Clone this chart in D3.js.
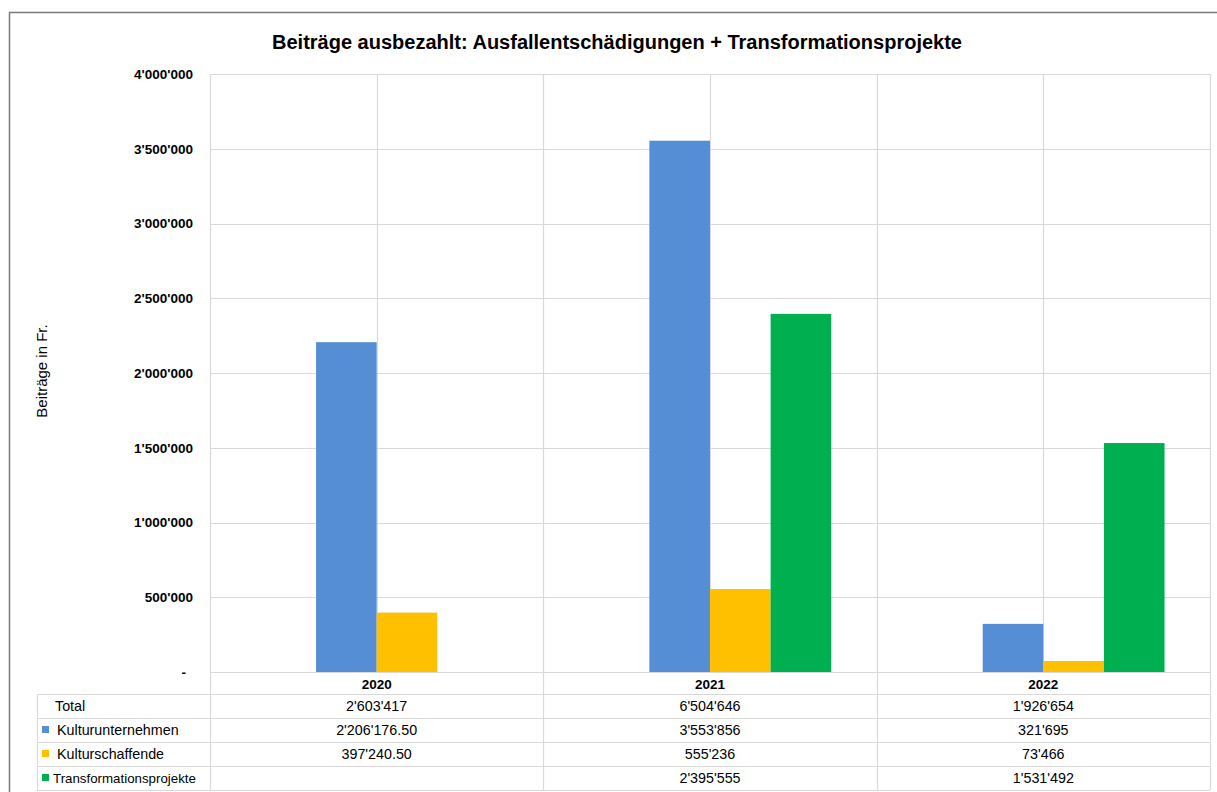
<!DOCTYPE html>
<html>
<head>
<meta charset="utf-8">
<script src="https://cdn.jsdelivr.net/npm/d3@7"></script>
<style>
  html, body { margin: 0; padding: 0; background: #fff; }
  svg { display: block; font-family: "Liberation Sans", Arial, sans-serif; }
</style>
</head>
<body>
<svg id="chart" width="1217" height="792"></svg>
<script>
// ---- Data ----
const categories = ["2020", "2021", "2022"];
const seriesNames = ["Total", "Kulturunternehmen", "Kulturschaffende", "Transformationsprojekte"];
const totalValues = [2603417, 6504646, 1926654];
const kulturunternehmen = [2206176.5, 3553856, 321695];
const kulturschaffende = [397240.5, 555236, 73466];
const transformationsprojekte = [null, 2395555, 1531492];
const seriesColors = [null, "#558ED5", "#FFC000", "#00B050"];
const yTicks = [0, 500000, 1000000, 1500000, 2000000, 2500000, 3000000, 3500000, 4000000];
const titleText = "Beiträge ausbezahlt: Ausfallentschädigungen + Transformationsprojekte";
const yTitleText = "Beiträge in Fr.";

const seriesValues = [totalValues, kulturunternehmen, kulturschaffende, transformationsprojekte];

// ---- Layout ----
const W = 1217, H = 792;
const plot = { left: 210, right: 1210, top: 74, bottom: 672 };
const tableLeft = 37, rowH = 24;
const gridColor = "#d9d9d9";

const svg = d3.select("#chart");

// outer frame
svg.append("rect")
  .attr("x", 9.5).attr("y", 12.5)
  .attr("width", W + 20).attr("height", H + 20)
  .attr("fill", "none").attr("stroke", "#7a7a7a").attr("stroke-width", 1.5);

const x0 = d3.scaleBand().domain(categories).range([plot.left, plot.right]);
const x1 = d3.scaleBand().domain(seriesNames).range([0, x0.bandwidth()])
  .paddingInner(0).paddingOuter(0.75);
const y = d3.scaleLinear().domain([0, 4000000]).range([plot.bottom, plot.top]);

const loc = d3.formatLocale({ decimal: ".", thousands: "'", grouping: [3], currency: ["", ""] });
const fmtInt = loc.format(",.0f");
const fmtDec = loc.format(",.2f");
const fmtVal = v => v == null ? "" : (Math.round(v) === v ? fmtInt(v) : fmtDec(v));

// horizontal gridlines
svg.append("g").selectAll("line").data(yTicks).join("line")
  .attr("x1", plot.left).attr("x2", plot.right)
  .attr("y1", d => Math.round(y(d)) + 0.5).attr("y2", d => Math.round(y(d)) + 0.5)
  .attr("stroke", gridColor).attr("stroke-width", 1.2);

// vertical gridlines (category boundaries and centers)
const vlines = [];
categories.forEach(c => { vlines.push(x0(c)); vlines.push(x0(c) + x0.bandwidth() / 2); });
vlines.push(plot.right);
svg.append("g").selectAll("line").data(vlines).join("line")
  .attr("x1", d => Math.round(d) + 0.5).attr("x2", d => Math.round(d) + 0.5)
  .attr("y1", plot.top).attr("y2", plot.bottom)
  .attr("stroke", gridColor).attr("stroke-width", 1.2);

// bars
const barData = [];
categories.forEach((c, i) => {
  seriesNames.forEach((s, j) => {
    const v = seriesValues[j][i];
    if (seriesColors[j] && v != null) barData.push({ c, s, v, color: seriesColors[j] });
  });
});
svg.append("g").selectAll("rect").data(barData).join("rect")
  .attr("x", d => x0(d.c) + x1(d.s))
  .attr("width", x1.bandwidth())
  .attr("y", d => y(d.v))
  .attr("height", d => y(0) - y(d.v))
  .attr("fill", d => d.color);

// y axis
const yAxis = d3.axisLeft(y).tickValues(yTicks).tickSize(0).tickPadding(17)
  .tickFormat(d => d === 0 ? "-" : fmtInt(d));
const gy = svg.append("g").attr("transform", `translate(${plot.left},0)`).call(yAxis);
gy.select(".domain").remove();
gy.selectAll("text")
  .attr("font-family", "'Liberation Sans', Arial, sans-serif")
  .attr("font-size", 13.5).attr("font-weight", "bold").attr("fill", "#000");
gy.selectAll(".tick").filter(d => d === 0).select("text").attr("x", -24);

// title
svg.append("text")
  .attr("x", 617).attr("y", 49)
  .attr("text-anchor", "middle")
  .attr("font-size", 20).attr("font-weight", "bold").attr("fill", "#000")
  .text(titleText);

// y title
svg.append("text")
  .attr("transform", `translate(47,371) rotate(-90)`)
  .attr("text-anchor", "middle")
  .attr("font-size", 15).attr("fill", "#000")
  .text(yTitleText);

// ---- Data table ----
const tableTop = plot.bottom;            // header row top
const headerBottom = tableTop + 22;      // 694
const rowsY = seriesNames.map((s, i) => headerBottom + i * rowH);
const tableBottom = headerBottom + seriesNames.length * rowH;

// header year labels
svg.append("g").selectAll("text").data(categories).join("text")
  .attr("x", d => x0(d) + x0.bandwidth() / 2)
  .attr("y", tableTop + 16.5)
  .attr("text-anchor", "middle")
  .attr("font-size", 13.5).attr("font-weight", "bold").attr("fill", "#000")
  .text(d => d);

// table horizontal lines
const hl = [headerBottom].concat(rowsY.map(r => r + rowH));
svg.append("g").selectAll("line").data(hl).join("line")
  .attr("x1", tableLeft).attr("x2", plot.right)
  .attr("y1", d => d + 0.5).attr("y2", d => d + 0.5)
  .attr("stroke", gridColor).attr("stroke-width", 1.2);

// table vertical lines
const tvl = [plot.left].concat(categories.map(c => x0(c) + x0.bandwidth()));
svg.append("g").selectAll("line").data(tvl).join("line")
  .attr("x1", d => Math.round(d) + 0.5).attr("x2", d => Math.round(d) + 0.5)
  .attr("y1", tableTop).attr("y2", tableBottom)
  .attr("stroke", gridColor).attr("stroke-width", 1.2);
svg.append("line")
  .attr("x1", tableLeft + 0.5).attr("x2", tableLeft + 0.5)
  .attr("y1", headerBottom).attr("y2", tableBottom)
  .attr("stroke", gridColor).attr("stroke-width", 1.2);

// row labels with legend keys
const rows = svg.append("g").selectAll("g").data(seriesNames).join("g")
  .attr("transform", (d, i) => `translate(0,${rowsY[i]})`);
rows.filter((d, i) => seriesColors[i]).append("rect")
  .attr("x", 42).attr("y", rowH / 2 - 4).attr("width", 7).attr("height", 7)
  .attr("fill", (d) => seriesColors[seriesNames.indexOf(d)]);
rows.append("text")
  .attr("x", d => d === "Transformationsprojekte" ? 53 : (d === "Total" ? 55 : 57))
  .attr("y", rowH / 2 + 5)
  .attr("font-size", d => d === "Transformationsprojekte" ? 13.3 : 14.3)
  .attr("fill", "#000")
  .text(d => d);

// cell values
const cells = [];
seriesNames.forEach((s, j) => categories.forEach((c, i) => cells.push({ j, c, v: seriesValues[j][i] })));
svg.append("g").selectAll("text").data(cells).join("text")
  .attr("x", d => x0(d.c) + x0.bandwidth() / 2)
  .attr("y", d => rowsY[d.j] + rowH / 2 + 5)
  .attr("text-anchor", "middle")
  .attr("font-size", 14.3).attr("fill", "#000")
  .text(d => fmtVal(d.v));
</script>
</body>
</html>
